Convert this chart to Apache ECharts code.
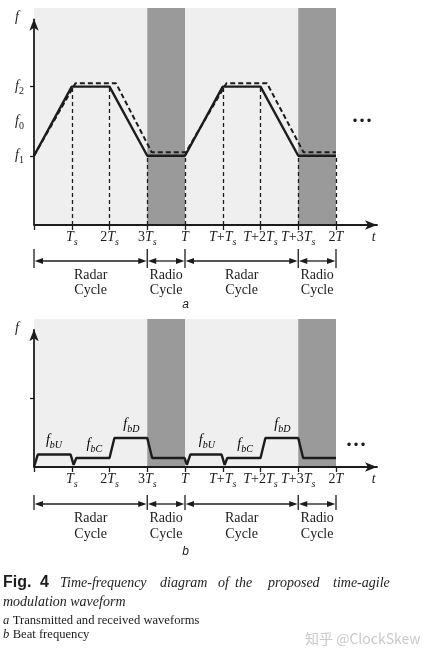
<!DOCTYPE html>
<html>
<head>
<meta charset="utf-8">
<script src="https://cdn.jsdelivr.net/npm/echarts@6.0.0/dist/echarts.min.js"></script>
<style>
html, body { margin:0; padding:0; background:#fff; }
#chart { width:427px; height:659px; }
</style>
</head>
<body>
<div id="chart"></div>
<script>
// ---------------- data (time in units of Ts, T = 4 Ts; frequency in units of f1, f2 = 2 f1) ----------------
const tickValues = [0, 1, 2, 3, 4, 5, 6, 7, 8];
const tickLabels = ['', 'Ts', '2Ts', '3Ts', 'T', 'T+Ts', 'T+2Ts', 'T+3Ts', '2T'];
const timeAxisName = 't';
const timeAxisNameAt = 9;

const freqTicksA = [1, 2];
const freqLabelValuesA = [1, 1.5, 2, 3];
const freqLabelsA = ['f1', 'f0', 'f2', 'f'];
const freqTicksB = [1];
const freqLabelValuesB = [2];
const freqLabelsB = ['f'];

// transmitted (solid) and received (dashed) waveforms
const txTime = [0, 1, 2, 3, 4, 5, 6, 7, 8];
const txFreq = [1, 2, 2, 1, 1, 2, 2, 1, 1];
const rxTime = [0, 1.1, 2.17, 3.12, 4.02, 5.1, 6.17, 7.14, 8];
const rxFreq = [1, 2.05, 2.05, 1.05, 1.05, 2.05, 2.05, 1.05, 1.05];

// beat frequency
const beatTime = [0, 0.1, 0.97, 1.05, 1.12, 2, 2.13, 3, 3.13, 3.99, 4.05, 4.14, 4.97, 5.05, 5.12, 6, 6.13, 7, 7.13, 8];
const beatFreq = [0, 0.18, 0.18, 0.03, 0.13, 0.13, 0.42, 0.42, 0.13, 0.13, 0.03, 0.18, 0.18, 0.03, 0.13, 0.13, 0.42, 0.42, 0.13, 0.13];
const beatLabels = ['bU', 'bC', 'bD', 'bU', 'bC', 'bD'];
const beatLabelTime = [0.53, 1.6, 2.58, 4.58, 5.59, 6.58];
const beatLabelFreq = [0.18, 0.13, 0.42, 0.18, 0.13, 0.42];

// cycles
const cycleBounds = [0, 3, 4, 7, 8];
const cycleNames = ['Radar\nCycle', 'Radio\nCycle', 'Radar\nCycle', 'Radio\nCycle'];
const radarBands = [[0, 3], [4, 7]];
const radioBands = [[3, 4], [7, 8]];

// ---------------- style / layout ----------------
const INK = '#1c1c1c';
const LIGHT = '#efefef';
const DARK = '#9a9a9a';
const SERIF = '"Liberation Serif", "Times New Roman", serif';
const SANS = '"Liberation Sans", Arial, sans-serif';
const PX_TS = 37.75, PX_F = 69.2;
const grids = [
  {left: 34, top: 8, width: 343, height: 217},
  {left: 34, top: 319, width: 343, height: 148}
];
const yAxisTop = [2.98, 1.99];

const rich = {
  i: {fontFamily: SERIF, fontStyle: 'italic', fontSize: 14, lineHeight: 14, verticalAlign: 'top', color: INK},
  ip: {fontFamily: SERIF, fontStyle: 'italic', fontSize: 14, lineHeight: 14, verticalAlign: 'top', color: INK, padding: [0, 5, 0, 0]},
  n: {fontFamily: SERIF, fontSize: 14, lineHeight: 14, verticalAlign: 'top', color: INK},
  s: {fontFamily: SERIF, fontStyle: 'italic', fontSize: 10, lineHeight: 10, padding: [7, 0, 0, 0], verticalAlign: 'top', color: INK},
  sn: {fontFamily: SERIF, fontSize: 10, lineHeight: 10, padding: [7, 0, 0, 0], verticalAlign: 'top', color: INK}
};

function timeRich(s) {
  let out = '';
  for (const c of s) {
    if (c === 'T' || c === 't') out += '{i|' + c + '}';
    else if (c === 's') out += '{s|s}';
    else out += '{n|' + c + '}';
  }
  return out;
}
function freqRich(s) {
  if (s.length === 1) return '{ip|' + s + '}';
  const sub = s.slice(1);
  return '{i|f}{' + (/^\d+$/.test(sub) ? 'sn' : 's') + '|' + sub + '}';
}

function xAxisFor(k) {
  return {
    type: 'value', gridIndex: k, min: 0, max: grids[k].width / PX_TS, z: 4,
    axisLine: {show: true, onZero: false, lineStyle: {color: INK, width: 1.8}, symbol: ['none', 'arrow'], symbolSize: [7, 12]},
    axisTick: {show: true, length: 5, customValues: tickValues, lineStyle: {color: INK, width: 1.3}},
    axisLabel: {
      show: true, margin: 5, customValues: tickValues.slice(1).concat([timeAxisNameAt]), rich: rich,
      formatter: function (v) {
        if (Math.abs(v - timeAxisNameAt) < 1e-6) return timeRich(timeAxisName);
        const i = tickValues.indexOf(v);
        return i >= 0 ? timeRich(tickLabels[i]) : '';
      }
    },
    splitLine: {show: false}
  };
}
function yAxisFor(k, ticks, labelVals, labels) {
  return {
    type: 'value', gridIndex: k, min: 0, max: grids[k].height / PX_F, z: 4,
    axisLine: {show: false},
    axisTick: {show: true, length: 4, customValues: ticks, lineStyle: {color: INK, width: 1.3}},
    axisLabel: {
      show: true, margin: 10, customValues: labelVals, rich: rich,
      formatter: function (v) { const i = labelVals.indexOf(v); return i >= 0 ? freqRich(labels[i]) : ''; }
    },
    splitLine: {show: false}
  };
}
function bands() {
  return radarBands.map(b => [{xAxis: b[0], itemStyle: {color: LIGHT}}, {xAxis: b[1]}])
    .concat(radioBands.map(b => [{xAxis: b[0], itemStyle: {color: DARK}}, {xAxis: b[1]}]));
}
function zip(a, b) { return a.map((v, i) => [v, b[i]]); }
function yAxisSeries(k) {
  return {
    type: 'line', xAxisIndex: k, yAxisIndex: k, data: [[0, 0], [0, yAxisTop[k]]], symbol: 'none', clip: false, z: 4,
    lineStyle: {color: INK, width: 1.8}, silent: true, animation: false,
    markPoint: {symbol: 'arrow', symbolSize: [7, 12], itemStyle: {color: INK}, label: {show: false}, silent: true,
      data: [{coord: [0, yAxisTop[k]]}]}
  };
}

const option = {
  animation: false,
  backgroundColor: '#ffffff',
  grid: grids.map(g => Object.assign({containLabel: false}, g)),
  xAxis: [xAxisFor(0), xAxisFor(1)],
  yAxis: [yAxisFor(0, freqTicksA, freqLabelValuesA, freqLabelsA), yAxisFor(1, freqTicksB, freqLabelValuesB, freqLabelsB)],
  series: [
    {
      name: 'transmitted', type: 'line', xAxisIndex: 0, yAxisIndex: 0, data: zip(txTime, txFreq),
      symbol: 'none', clip: false, z: 3, lineStyle: {color: INK, width: 2.4},
      markArea: {silent: true, data: bands()}
    },
    {
      name: 'received', type: 'line', xAxisIndex: 0, yAxisIndex: 0, data: zip(rxTime, rxFreq),
      symbol: 'none', clip: false, z: 3, lineStyle: {color: INK, width: 2, type: [5, 3]}
    },
    {
      name: 'guides', type: 'lines', coordinateSystem: 'cartesian2d', xAxisIndex: 0, yAxisIndex: 0, z: 2, silent: true,
      data: txTime.slice(1).map((t, i) => ({coords: [[t, 0], [t, txFreq[i + 1]]]})),
      lineStyle: {color: INK, width: 1.3, type: [4, 3], opacity: 1}
    },
    yAxisSeries(0),
    {
      name: 'beat', type: 'line', xAxisIndex: 1, yAxisIndex: 1, data: zip(beatTime, beatFreq),
      symbol: 'none', clip: false, z: 3, lineStyle: {color: INK, width: 2.4},
      markArea: {silent: true, data: bands()}
    },
    yAxisSeries(1)
  ]
};

const chart = echarts.init(document.getElementById('chart'), null, {renderer: 'canvas'});
chart.setOption(option);

// ---------------- annotations positioned through the axes ----------------
const panels = [
  {grid: 0, barTop: 24, barBot: 43, arrowY: 36, textTop: 42.5, lineH: 15, tag: 'a', tagY: 80, dots: [362, 122]},
  {grid: 1, barTop: 28, barBot: 43, arrowY: 37, textTop: 43, lineH: 16, tag: 'b', tagY: 85, dots: [356, 446]}
];
const graphics = [];
function px(k, x, y) { return chart.convertToPixel({gridIndex: k}, [x, y]); }
function line(x1, y1, x2, y2, w) {
  graphics.push({type: 'line', silent: true, z: 10, shape: {x1, y1, x2, y2}, style: {stroke: INK, lineWidth: w || 1.3}});
}
function tri(pts) { graphics.push({type: 'polygon', silent: true, z: 10, shape: {points: pts}, style: {fill: INK}}); }
function text(x, y, str, font, align, va, extra) {
  graphics.push({type: 'text', silent: true, z: 10, x, y,
    style: Object.assign({text: str, font: font, fill: INK, align: align || 'left', verticalAlign: va || 'middle'}, extra || {})});
}

panels.forEach(p => {
  const axisY = px(p.grid, 0, 0)[1];
  const xs = cycleBounds.map(b => px(p.grid, b, 0)[0]);
  const ay = axisY + p.arrowY;
  xs.forEach(x => line(x, axisY + p.barTop, x, axisY + p.barBot, 1.3));
  for (let i = 0; i < xs.length - 1; i++) {
    const a = xs[i], b = xs[i + 1];
    line(a + 4, ay, b - 4, ay, 1.3);
    tri([[a + 0.7, ay], [a + 9, ay - 3], [a + 9, ay + 3]]);
    tri([[b - 0.7, ay], [b - 9, ay - 3], [b - 9, ay + 3]]);
    text((a + b) / 2, axisY + p.textTop, cycleNames[i], '14px ' + SERIF, 'center', 'top', {lineHeight: p.lineH});
  }
  text(px(p.grid, 4, 0)[0] + 0.5, axisY + p.tagY, p.tag, 'italic 12px ' + SANS, 'center', 'middle');
  text(p.dots[0], p.dots[1], '\u2022\u2022\u2022', '12px "DejaVu Sans"', 'center', 'middle');
});

// beat-frequency labels
beatLabels.forEach((lab, i) => {
  const pt = px(1, beatLabelTime[i], beatLabelFreq[i]);
  graphics.push({type: 'text', silent: true, z: 10, x: pt[0], y: pt[1] - 21,
    style: {text: freqRich('f' + lab), rich: rich, align: 'center', verticalAlign: 'top'}});
});

// caption
const capY1 = 583, capY2 = 602;
text(3, capY1, 'Fig.', 'bold 16px ' + SANS);
text(40, capY1, '4', 'bold 16px ' + SANS);
const capWords = ['Time-frequency', 'diagram', 'of', 'the', 'proposed', 'time-agile'];
const capWordX = [60, 160, 218, 235, 268, 333];
capWords.forEach((w, i) => text(capWordX[i], capY1, w, 'italic 14px ' + SERIF));
text(3, capY2, 'modulation waveform', 'italic 14px ' + SERIF);
text(3, 621, 'a', 'italic 12.6px ' + SERIF);
text(12.7, 621, 'Transmitted and received waveforms', '12.6px ' + SERIF);
text(3, 635, 'b', 'italic 12.6px ' + SERIF);
text(12.7, 635, 'Beat frequency', '12.6px ' + SERIF);
graphics.push({type: 'text', silent: true, z: 10, x: 305, y: 639,
  style: {text: '知乎 @ClockSkew', font: '14px "Noto Sans CJK SC", "Noto Sans", sans-serif', fill: '#c9c9c9', align: 'left', verticalAlign: 'middle'}});

chart.setOption({graphic: {elements: graphics}});
</script>
</body>
</html>
